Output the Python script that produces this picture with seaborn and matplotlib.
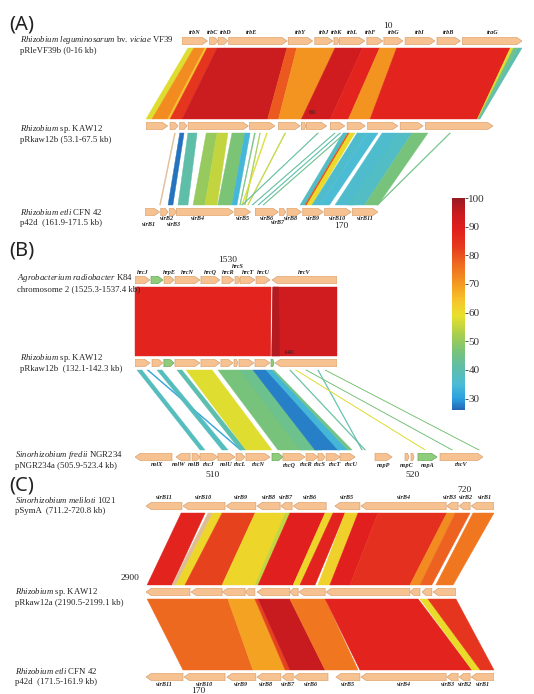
import numpy as np
import matplotlib
matplotlib.use("Agg")
import matplotlib.pyplot as plt
import seaborn as sns
from matplotlib.colors import LinearSegmentedColormap, Normalize
from matplotlib.patches import Polygon
from matplotlib.cm import ScalarMappable

sns.set_style("white")
plt.rcParams["font.family"] = ["Liberation Serif", "DejaVu Serif"]
plt.rcParams["mathtext.fontset"] = "custom"
plt.rcParams["mathtext.rm"] = "Liberation Serif"
plt.rcParams["mathtext.it"] = "Liberation Serif:italic"

W, H = 534, 694

# identity colour scale (%)
id_stops = [26, 30, 35, 41, 47, 53, 59, 64, 70, 77, 83, 89, 95, 100]
id_colors = ["#2466b4", "#2aa2e0", "#4cbcd4", "#5fbea6", "#7cc474", "#aed04a", "#e8e02a",
             "#f5c62a", "#f49a20", "#ee6a20", "#e63a1e", "#e11f1e", "#c81b1f", "#981b22"]
cbar_ticks = [30, 40, 50, 60, 70, 80, 90, 100]

# loci, kb shown left -> right
regions = {
    "vf39": (0.0, 16.0), "kaw12b_a": (53.1, 67.5), "p42d_a": (161.9, 171.5),
    "k84": (1525.3, 1537.4), "kaw12b_b": (132.1, 142.3), "ngr234": (505.9, 523.4),
    "psyma": (711.2, 720.8), "kaw12a": (2190.5, 2199.1), "p42d_c": (171.5, 161.9),
}
names = {
    "vf39": (r"$\mathit{Rhizobium\ leguminosarum}$ bv. $\mathit{viciae}$ VF39", "pRleVF39b (0-16 kb)"),
    "kaw12b_a": (r"$\mathit{Rhizobium}$ sp. KAW12", "pRkaw12b (53.1-67.5 kb)"),
    "p42d_a": (r"$\mathit{Rhizobium\ etli}$ CFN 42", "p42d  (161.9-171.5 kb)"),
    "k84": (r"$\mathit{Agrobacterium\ radiobacter}$ K84", "chromosome 2 (1525.3-1537.4 kb)"),
    "kaw12b_b": (r"$\mathit{Rhizobium}$ sp. KAW12", "pRkaw12b  (132.1-142.3 kb)"),
    "ngr234": (r"$\mathit{Sinorhizobium\ fredii}$ NGR234", "pNGR234a (505.9-523.4 kb)"),
    "psyma": (r"$\mathit{Sinorhizobium\ meliloti}$ 1021", "pSymA  (711.2-720.8 kb)"),
    "kaw12a": (r"$\mathit{Rhizobium}$ sp. KAW12", "pRkaw12a (2190.5-2199.1 kb)"),
    "p42d_c": (r"$\mathit{Rhizobium\ etli}$ CFN 42", "p42d  (171.5-161.9 kb)"),
}

# genes: (name, start kb, end kb, strand, kind)  kind o = orange, g = green
genes = {
    "vf39": [("trbN", 0.0, 1.2, 1, "o"), ("trbC", 1.3, 1.7, 1, "o"), ("trbD", 1.7, 2.15, 1, "o"),
             ("trbE", 2.2, 4.95, 1, "o"), ("trbY", 5.0, 6.15, 1, "o"), ("trbJ", 6.25, 7.1, 1, "o"),
             ("trbK", 7.15, 7.4, 1, "o"), ("trbL", 7.4, 8.6, 1, "o"), ("trbF", 8.7, 9.45, 1, "o"),
             ("trbG", 9.5, 10.4, 1, "o"), ("trbI", 10.5, 11.9, 1, "o"), ("trbB", 12.0, 13.1, 1, "o"),
             ("traG", 13.2, 16.0, 1, "o")],
    "kaw12b_a": [("", 53.1, 54.0, 1, "o"), ("", 54.1, 54.43, 1, "o"), ("", 54.5, 54.8, 1, "o"),
                 ("", 54.85, 57.35, 1, "o"), ("", 57.4, 58.45, 1, "o"), ("", 58.6, 59.5, 1, "o"),
                 ("", 59.55, 59.75, 1, "o"), ("", 59.75, 60.6, 1, "o"), ("", 60.75, 61.35, 1, "o"),
                 ("", 61.45, 62.2, 1, "o"), ("", 62.3, 63.55, 1, "o"), ("", 63.65, 64.6, 1, "o"),
                 ("", 64.7, 67.5, 1, "o")],
    "p42d_a": [("virB1", 161.9, 162.5, 1, "o"), ("virB2", 162.55, 162.85, 1, "o"),
               ("virB3", 162.9, 163.2, 1, "o"), ("virB4", 163.2, 165.55, 1, "o"),
               ("virB5", 165.6, 166.25, 1, "o"), ("virB6", 166.45, 167.4, 1, "o"),
               ("virB7", 167.45, 167.7, 1, "o"), ("virB8", 167.75, 168.35, 1, "o"),
               ("virB9", 168.4, 169.25, 1, "o"), ("virB10", 169.3, 170.4, 1, "o"),
               ("virB11", 170.45, 171.5, 1, "o")],
    "k84": [("hrcJ", 1525.3, 1526.2, 1, "o"), ("", 1526.26, 1526.98, 1, "g"),
            ("hrpE", 1527.04, 1527.64, 1, "o"), ("hrcN", 1527.7, 1529.19, 1, "o"),
            ("hrcQ", 1529.25, 1530.39, 1, "o"), ("hrcR", 1530.51, 1531.23, 1, "o"),
            ("hrcS", 1531.29, 1531.59, 1, "o"), ("hrcT", 1531.59, 1532.49, 1, "o"),
            ("hrcU", 1532.55, 1533.39, 1, "o"), ("hrcV", 1533.51, 1537.4, -1, "o")],
    "kaw12b_b": [("", 132.1, 132.86, 1, "o"), ("", 132.96, 133.51, 1, "o"), ("", 133.56, 134.07, 1, "g"),
                 ("", 134.12, 135.38, 1, "o"), ("", 135.43, 136.39, 1, "o"), ("", 136.44, 137.05, 1, "o"),
                 ("", 137.1, 137.3, 1, "o"), ("", 137.35, 138.11, 1, "o"), ("", 138.16, 138.92, 1, "o"),
                 ("", 138.97, 139.12, 1, "g"), ("", 139.17, 142.3, -1, "o")],
    "ngr234": [("nolX", 505.9, 507.76, -1, "o"), ("nolW", 507.96, 508.67, -1, "o"),
               ("nolB", 508.77, 509.17, 1, "o"), ("rhcJ", 509.17, 510.07, 1, "o"),
               ("nolU", 510.07, 510.93, 1, "o"), ("rhcL", 510.98, 511.43, 1, "o"),
               ("rhcN", 511.48, 512.69, 1, "o"), ("", 512.79, 513.34, 1, "g"),
               ("rhcQ", 513.34, 514.45, 1, "o"), ("rhcR", 514.5, 515.1, 1, "o"),
               ("rhcS", 515.1, 515.46, 1, "o"), ("rhcT", 515.51, 516.21, 1, "o"),
               ("rhcU", 516.21, 516.97, 1, "o"), ("nopP", 517.97, 518.83, 1, "o"),
               ("nopC", 519.48, 519.68, 1, "o"), ("", 519.78, 519.93, 1, "o"),
               ("nopA", 520.13, 521.09, 1, "g"), ("rhcV", 521.24, 523.4, 1, "o")],
    "psyma": [("virB11", 711.2, 712.19, -1, "o"), ("virB10", 712.22, 713.38, -1, "o"),
              ("virB9", 713.41, 714.23, -1, "o"), ("virB8", 714.26, 714.9, -1, "o"),
              ("virB7", 714.92, 715.23, -1, "o"), ("virB6", 715.26, 716.17, -1, "o"),
              ("virB5", 716.41, 717.1, -1, "o"), ("virB4", 717.13, 719.48, -1, "o"),
              ("virB3", 719.5, 719.81, -1, "o"), ("virB2", 719.84, 720.14, -1, "o"),
              ("virB1", 720.17, 720.8, -1, "o")],
    "kaw12a": [("", 2190.5, 2191.72, -1, "o"), ("", 2191.75, 2192.61, -1, "o"),
               ("", 2192.61, 2193.25, -1, "o"), ("", 2193.25, 2193.52, -1, "o"),
               ("", 2193.58, 2194.49, -1, "o"), ("", 2194.49, 2194.72, -1, "o"),
               ("", 2194.74, 2195.47, -1, "o"), ("", 2195.49, 2197.82, -1, "o"),
               ("", 2197.82, 2198.1, -1, "o"), ("", 2198.16, 2198.43, -1, "o"),
               ("", 2198.46, 2199.1, -1, "o")],
    "p42d_c": [("virB11", 170.48, 171.5, 1, "o"), ("virB10", 169.32, 170.45, 1, "o"),
               ("virB9", 168.47, 169.27, 1, "o"), ("virB8", 167.78, 168.44, 1, "o"),
               ("virB7", 167.44, 167.75, 1, "o"), ("virB6", 166.48, 167.42, 1, "o"),
               ("virB5", 165.6, 166.26, 1, "o"), ("virB4", 163.22, 165.57, 1, "o"),
               ("virB3", 162.89, 163.2, 1, "o"), ("virB2", 162.56, 162.86, 1, "o"),
               ("virB1", 161.9, 162.53, 1, "o")],
}

# coordinate labels: (kb, text)
ticks = {
    "vf39": [(9.7, "10")], "kaw12b_a": [(60.0, "60")], "p42d_a": [(170.0, "170")],
    "k84": [(1530.85, "1530")], "kaw12b_b": [(139.85, "140")],
    "ngr234": [(509.82, "510"), (519.88, "520")],
    "psyma": [(720.0, "720")], "kaw12a": [(2190.06, "2900")], "p42d_c": [(170.07, "170")],
}

# BLASTN hits: (start A, end A, start B, end B, identity %)  nan = inverted hit
links_a1 = [(0.28, 0.56, 53.1, 53.35, 58), (0.56, 1.08, 53.35, 54.0, 72), (1.08, 1.18, 54.0, 54.1, 65),
            (1.18, 1.65, 54.1, 54.6, 84), (1.65, 4.94, 54.6, 58.15, 94), (4.94, 5.4, 58.15, 58.6, 79),
            (5.4, 7.2, 58.6, 59.55, 71), (7.2, 8.5, 59.55, 60.75, 93), (8.5, 9.3, 60.75, 61.5, 88),
            (9.3, 10.1, 61.5, 62.4, 71), (10.1, 15.45, 62.4, 66.85, 88), (15.45, 15.6, 66.85, 66.88, 58),
            (15.6, 15.8, 66.88, 66.92, 45), (15.8, 16.0, 66.92, 66.96, 40)]
links_a2 = [(54.28, 54.32, 162.5, 162.54, np.nan), (54.5, 54.68, 162.85, 163.05, 27),
            (54.84, 55.22, 163.26, 163.67, 41), (55.6, 56.05, 163.88, 164.37, 50),
            (56.05, 56.5, 164.37, 164.87, 55), (56.67, 57.2, 164.9, 165.48, 47),
            (57.2, 57.42, 165.48, 165.69, 34), (57.6, 57.64, 165.8, 165.83, 45),
            (57.82, 57.85, 166.0, 166.04, 52), (58.1, 58.14, 165.88, 165.92, 58),
            (58.86, 58.9, 166.12, 166.16, 55), (60.22, 60.26, 165.88, 165.92, 42),
            (60.92, 60.96, 166.3, 166.34, 42), (61.14, 61.18, 166.55, 166.59, 40),
            (61.35, 61.39, 166.75, 166.79, 44), (61.28, 61.48, 168.29, 168.49, 37),
            (61.48, 61.55, 168.49, 168.57, 80), (61.55, 61.77, 168.57, 168.78, 60),
            (61.86, 62.3, 168.78, 169.11, 36), (62.3, 62.73, 169.11, 169.5, 35),
            (62.9, 63.55, 169.73, 170.55, 36), (63.55, 64.14, 170.26, 170.95, 37),
            (64.14, 64.8, 170.95, 171.5, 46), (65.7, 65.74, 171.45, 171.5, 45)]
links_b1 = [(1525.3, 1533.45, 132.1, 138.95, 88), (1533.55, 1537.4, 139.0, 142.3, 93),
            (1533.55, 1533.9, 139.0, 139.4, 97)]
links_b2 = [(132.2, 132.45, 509.17, 509.42, 38), (132.71, 132.78, 511.18, 511.25, 30),
            (133.21, 133.46, 510.28, 510.58, 38), (134.22, 134.47, 511.18, 511.48, 40),
            (134.68, 135.99, 511.48, 512.79, 58), (136.29, 137.4, 513.09, 515.1, 46),
            (137.4, 138.06, 514.2, 515.31, 44), (138.06, 138.72, 514.95, 516.21, 28),
            (138.72, 139.02, 516.11, 516.61, 34), (139.02, 139.12, 516.61, 516.82, 45),
            (139.9, 139.95, 517.45, 517.5, 42), (141.32, 141.36, 517.3, 517.34, 40),
            (140.2, 140.24, 520.47, 520.51, 58), (140.72, 140.76, 521.83, 521.87, 46),
            (141.68, 141.72, 523.18, 523.22, 47)]
links_c1 = [(712.17, 712.83, 2190.53, 2191.22, 88), (712.91, 713.05, 2191.22, 2191.33, np.nan),
            (713.05, 713.3, 2191.33, 2191.58, 61), (713.3, 714.21, 2191.58, 2192.61, 82),
            (714.21, 715.04, 2192.61, 2193.52, 61), (715.04, 715.17, 2193.52, 2193.61, 55),
            (715.17, 716.14, 2193.61, 2194.58, 89), (716.14, 716.36, 2194.58, 2194.77, 61),
            (716.36, 716.69, 2194.77, 2195.19, 88), (716.69, 717.05, 2195.27, 2195.6, 62),
            (717.05, 717.6, 2195.6, 2196.16, 89), (717.6, 719.5, 2196.16, 2197.82, 85),
            (719.5, 719.73, 2197.82, 2198.1, 72), (719.73, 720.14, 2198.1, 2198.43, 78),
            (720.22, 720.8, 2198.54, 2199.02, 75)]
links_c2 = [(2190.53, 2192.77, 170.48, 168.55, 77), (2192.77, 2193.52, 168.55, 167.66, 69),
            (2193.52, 2193.61, 167.66, 167.53, 82), (2193.61, 2194.49, 167.53, 166.56, 95),
            (2194.49, 2195.47, 166.56, 165.65, 75), (2195.47, 2198.05, 165.6, 162.51, 88),
            (2198.1, 2198.32, 162.51, 162.28, 60), (2198.32, 2199.1, 162.28, 161.9, 84)]

# ---- layout (px) ----
layout = {  # x0, x1, y centre
    "vf39": (182, 522, 41), "kaw12b_a": (146, 493, 126), "p42d_a": (145, 378, 212),
    "k84": (135, 337, 280), "kaw12b_b": (135, 337, 363), "ngr234": (135, 483, 457),
    "psyma": (146, 494, 506), "kaw12a": (146, 456, 592), "p42d_c": (146, 494, 677),
}
name_pos = {"vf39": (20, 40), "kaw12b_a": (20, 129), "p42d_a": (20, 212), "k84": (17, 278),
            "kaw12b_b": (20, 358), "ngr234": (15, 455), "psyma": (15, 500), "kaw12a": (15, 592),
            "p42d_c": (15, 671)}
# gene label side (+1 above, -1 below) and distance from gene edge (px)
gene_label_side = {"vf39": (1, 4.5), "p42d_a": (-1, 3), "k84": (1, 4), "ngr234": (-1, 4),
                   "psyma": (1, 4.5), "p42d_c": (-1, 3.5)}
# label nudges (dx, dy) in px, dy away from the track
label_nudge = {("p42d_a", "virB1"): (-3, 6), ("p42d_a", "virB2"): (3, -1), ("p42d_a", "virB3"): (1, 5),
               ("p42d_a", "virB4"): (-7, 0), ("p42d_a", "virB7"): (-5, 4), ("p42d_a", "virB8"): (-3, -1),
               ("k84", "hrcS"): (0, 6), ("vf39", "trbC"): (-1, 0), ("vf39", "trbD"): (3, 0),
               ("vf39", "trbE"): (-6, 0), ("vf39", "trbF"): (-4, 0),
               ("ngr234", "nolX"): (4, 0), ("ngr234", "nolW"): (-4, 0), ("ngr234", "nolB"): (-2, 0),
               ("ngr234", "rhcQ"): (-5, 0), ("ngr234", "rhcR"): (-6, 0), ("ngr234", "rhcS"): (-2, 0),
               ("ngr234", "rhcT"): (2, 0), ("ngr234", "rhcU"): (4, 0),
               ("psyma", "virB3"): (-2, 0), ("psyma", "virB2"): (1, 0), ("psyma", "virB1"): (2, 0),
               ("p42d_c", "virB3"): (-4, 0), ("p42d_c", "virB8"): (-3, 0)}
tick_dy = {"vf39": -15, "kaw12b_a": -13, "p42d_a": 14, "k84": -20, "kaw12b_b": -10,
           "ngr234": 18, "psyma": -16, "kaw12a": -14, "p42d_c": 14}
half_h, gap, head_px = 4, 3, 6
px2pt = 0.72

cmap = LinearSegmentedColormap.from_list(
    "ident", [((v - id_stops[0]) / (id_stops[-1] - id_stops[0]), c) for v, c in zip(id_stops, id_colors)])
norm = Normalize(vmin=id_stops[0], vmax=id_stops[-1])
gene_fc = {"o": "#f6c291", "g": "#8fcd7c"}
gene_ec = {"o": "#d7a274", "g": "#6aa75e"}
inv_color = "#dfbd93"

fig = plt.figure(figsize=(W / 100, H / 100), dpi=100)
ax_bg = fig.add_axes([0, 0, 1, 1], zorder=0)
ax_bg.set_xlim(0, W)
ax_bg.set_ylim(H, 0)
ax_bg.axis("off")

track_axes = {}
for key, (x0, x1, yc) in layout.items():
    left, right = regions[key]
    ax = fig.add_axes([x0 / W, 1 - (yc + half_h) / H, (x1 - x0) / W, 2 * half_h / H], zorder=3)
    ax.set_xlim(left, right)
    ax.set_ylim(-1, 1)
    ax.axis("off")
    ax.patch.set_alpha(0)
    track_axes[key] = ax
    kb_per_px = abs(right - left) / (x1 - x0)
    side, dist = gene_label_side.get(key, (0, 0))
    for gname, s, e, strand, kind in genes[key]:
        hk = min(head_px * kb_per_px, 0.45 * (e - s))
        if strand > 0:
            pts = [(s, -1), (e - hk, -1), (e, 0), (e - hk, 1), (s, 1)]
        else:
            pts = [(e, -1), (s + hk, -1), (s, 0), (s + hk, 1), (e, 1)]
        ax.add_patch(Polygon(pts, closed=True, fc=gene_fc[kind], ec=gene_ec[kind], lw=0.5))
        if gname and side:
            dx, dy = label_nudge.get((key, gname), (0, 0))
            off = (dist + dy) * px2pt * side
            ax.annotate(gname, ((s + e) / 2, side), xytext=(dx * px2pt, off), textcoords="offset points",
                        ha="center", va="center", fontsize=4.4, fontweight="bold",
                        fontstyle="italic", color="#222222", annotation_clip=False)
    small = key in ("kaw12b_a", "kaw12b_b")
    for kb, txt in ticks[key]:
        ax.annotate(txt, (kb, 0), xytext=(0, -tick_dy[key] * px2pt), textcoords="offset points",
                    ha="center", va="center", fontsize=5 if small else 6.8, color="#222222",
                    annotation_clip=False)
    nx, ny = name_pos[key]
    ax_bg.text(nx, ny, names[key][0], fontsize=6.3, ha="left", va="center", color="#222222")
    ax_bg.text(nx, ny + 11, names[key][1], fontsize=6.3, ha="left", va="center", color="#222222")


def to_px(ax, kb):
    disp = ax.transData.transform((kb, 0))
    return ax_bg.transData.inverted().transform(disp)[0]


def draw_links(top, bot, links):
    axt, axb = track_axes[top], track_axes[bot]
    yt = layout[top][2] + half_h + gap
    yb = layout[bot][2] - half_h - gap
    for a1, a2, b1, b2, ident in links:
        col = inv_color if np.isnan(ident) else cmap(norm(ident))
        pts = [(to_px(axt, a1), yt), (to_px(axt, a2), yt), (to_px(axb, b2), yb), (to_px(axb, b1), yb)]
        ax_bg.add_patch(Polygon(pts, closed=True, fc=col, ec=col, lw=0.3))


draw_links("vf39", "kaw12b_a", links_a1)
draw_links("kaw12b_a", "p42d_a", links_a2)
draw_links("k84", "kaw12b_b", links_b1)
draw_links("kaw12b_b", "ngr234", links_b2)
draw_links("psyma", "kaw12a", links_c1)
draw_links("kaw12a", "p42d_c", links_c2)

for letter, ly in [("(A)", 24), ("(B)", 250), ("(C)", 485)]:
    ax_bg.text(9, ly, letter, fontsize=14.5, family=["Noto Sans", "DejaVu Sans"],
               ha="left", va="center", color="#222222")

cax = fig.add_axes([452 / W, 1 - 410 / H, 13 / W, 212 / H], zorder=3)
cb = fig.colorbar(ScalarMappable(norm=norm, cmap=cmap), cax=cax, ticks=cbar_ticks)
cb.outline.set_visible(False)
cax.tick_params(length=2, width=0.6, pad=0.5, labelsize=8, colors="#333333")
cax.set_yticklabels([str(t) for t in cbar_ticks])

fig.savefig("out.png", dpi=100)
